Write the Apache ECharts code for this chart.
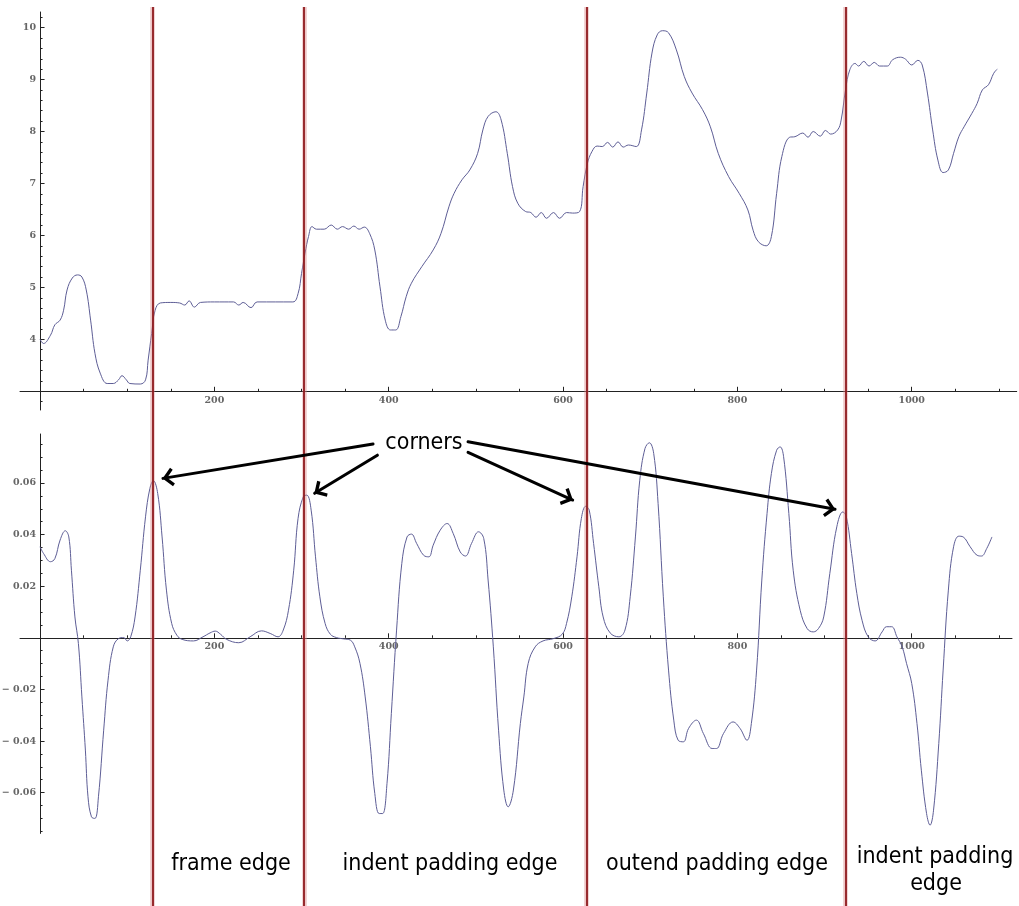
<!DOCTYPE html>
<html><head><meta charset="utf-8">
<script src="https://cdn.jsdelivr.net/npm/echarts@6/dist/echarts.min.js"></script>
<style>html,body{margin:0;padding:0;background:#fff}#c{width:1019px;height:906px}</style>
</head><body><div id="c"></div>
<script>
// ---- data ----
const topCurve = [[0,4.0],[4,3.92],[12,4.08],[17,4.28],[23,4.37],[27,4.56],[31,4.95],[37,5.18],[43,5.24],[48,5.2],[53,4.95],[58,4.37],[63,3.73],[69,3.35],[77,3.15],[84,3.15],[90,3.22],[94,3.3],[99,3.22],[103,3.15],[115,3.14],[121,3.22],[124,3.6],[128,4.11],[132,4.56],[138,4.7],[150,4.71],[160,4.70],[166,4.66],[171,4.74],[177,4.62],[184,4.71],[200,4.72],[222,4.72],[228,4.66],[233,4.71],[242,4.61],[249,4.72],[290,4.72],[296,4.88],[300,5.27],[304,5.66],[308,5.98],[312,6.17],[317,6.12],[326,6.12],[334,6.20],[341,6.12],[347,6.17],[354,6.12],[360,6.18],[366,6.12],[372,6.16],[378,6.04],[384,5.72],[390,5.01],[396,4.37],[402,4.18],[408,4.18],[414,4.44],[420,4.82],[426,5.08],[438,5.40],[451,5.72],[460,6.04],[469,6.55],[475,6.81],[484,7.07],[493,7.26],[502,7.58],[508,8.03],[514,8.29],[523,8.38],[529,8.22],[536,7.58],[542,6.94],[548,6.62],[557,6.46],[563,6.44],[569,6.35],[575,6.44],[581,6.33],[589,6.44],[596,6.33],[604,6.44],[611,6.43],[619,6.46],[623,6.94],[628,7.39],[633,7.61],[639,7.72],[645,7.71],[651,7.79],[657,7.70],[663,7.80],[669,7.70],[675,7.74],[684,7.71],[690,8.03],[696,8.74],[702,9.51],[708,9.86],[714,9.94],[721,9.90],[730,9.57],[739,9.06],[748,8.74],[760,8.42],[769,8.09],[778,7.58],[790,7.13],[802,6.81],[812,6.49],[818,6.10],[824,5.88],[833,5.80],[839,5.98],[845,6.81],[851,7.52],[860,7.89],[866,7.90],[875,7.97],[881,7.89],[887,8.00],[895,7.91],[901,8.02],[907,7.95],[915,8.03],[919,8.22],[924,8.80],[929,9.19],[935,9.31],[939,9.26],[945,9.35],[951,9.26],[957,9.33],[963,9.26],[972,9.26],[978,9.38],[987,9.43],[993,9.39],[1000,9.28],[1007,9.37],[1012,9.28],[1018,8.74],[1024,8.03],[1030,7.45],[1036,7.21],[1042,7.26],[1048,7.58],[1054,7.90],[1060,8.09],[1069,8.35],[1075,8.54],[1081,8.80],[1088,8.90],[1094,9.12],[1098,9.20]];

const bottomCurve = [[0,0.0353],[4,0.0327],[12,0.0295],[17,0.0307],[23,0.0379],[29,0.0415],[33,0.0391],[36,0.0262],[40,0.0081],[44,-0.0022],[48,-0.0229],[52,-0.0435],[55,-0.0616],[59,-0.0694],[63,-0.0700],[67,-0.0616],[73,-0.0358],[78,-0.0164],[84,-0.0035],[90,-0.0003],[96,0.0001],[100,-0.0012],[104,0.0004],[109,0.0081],[115,0.0262],[121,0.0469],[126,0.0579],[130,0.0609],[135,0.0559],[140,0.0391],[145,0.0185],[151,0.0056],[157,0.0010],[163,-0.0006],[176,-0.0012],[187,0.0004],[195,0.0019],[201,0.0026],[207,0.0014],[214,-0.0006],[228,-0.0019],[241,0.0004],[254,0.0027],[264,0.0017],[273,0.0004],[279,0.0030],[285,0.0107],[291,0.0262],[296,0.0463],[302,0.0547],[306,0.0553],[311,0.0495],[316,0.0314],[321,0.0159],[327,0.0056],[333,0.0014],[340,0.0001],[348,-0.0004],[356,-0.0009],[361,-0.0035],[367,-0.0099],[373,-0.0229],[379,-0.0422],[384,-0.0603],[389,-0.0681],[393,-0.0681],[398,-0.0565],[403,-0.0293],[409,0.0030],[415,0.0288],[421,0.0391],[426,0.0402],[432,0.0366],[440,0.0320],[446,0.0314],[451,0.0359],[459,0.0417],[467,0.0443],[474,0.0404],[482,0.0333],[488,0.0317],[495,0.0366],[503,0.0411],[509,0.0385],[514,0.0224],[520,-0.0035],[526,-0.0358],[532,-0.0590],[537,-0.0655],[543,-0.0590],[551,-0.0332],[555,-0.0229],[560,-0.0099],[568,-0.0035],[577,-0.0012],[589,-0.0003],[599,0.0014],[604,0.0056],[610,0.0159],[616,0.0314],[621,0.0463],[626,0.0510],[630,0.0495],[635,0.0366],[641,0.0198],[646,0.0081],[654,0.0019],[664,0.0004],[671,0.0030],[677,0.0159],[683,0.0391],[688,0.0611],[694,0.0734],[699,0.0756],[704,0.0714],[709,0.0521],[715,0.0159],[721,-0.0125],[727,-0.0319],[732,-0.0397],[738,-0.0403],[744,-0.0351],[753,-0.0319],[761,-0.0371],[771,-0.0429],[776,-0.0429],[784,-0.0371],[795,-0.0326],[803,-0.0351],[811,-0.0397],[816,-0.0332],[822,-0.0125],[828,0.0224],[834,0.0482],[839,0.0637],[845,0.0727],[849,0.0740],[853,0.0702],[859,0.0482],[864,0.0262],[872,0.0107],[880,0.0036],[887,0.0023],[893,0.0036],[899,0.0081],[906,0.0249],[914,0.0430],[921,0.0488],[925,0.0469],[931,0.0327],[937,0.0172],[943,0.0068],[950,0.0004],[958,-0.0012],[966,0.0023],[971,0.0043],[977,0.0043],[983,0.0004],[989,-0.0035],[994,-0.0099],[1000,-0.0177],[1006,-0.0332],[1011,-0.0513],[1017,-0.0681],[1021,-0.0726],[1025,-0.0668],[1031,-0.0410],[1036,-0.0125],[1042,0.0185],[1048,0.0353],[1054,0.0394],[1059,0.0391],[1067,0.0353],[1075,0.0320],[1080,0.0317],[1086,0.0346],[1092,0.0391]];

const edgeX = [129, 303, 627, 924];                  // red vertical lines
const xTickLabels = [200, 400, 600, 800, 1000];
const topYTickLabels = [4, 5, 6, 7, 8, 9, 10];
const bottomYTickLabels = [-0.06, -0.04, -0.02, 0.02, 0.04, 0.06];
// arrows from "corners" to the peaks (bottom-plot data coordinates)
const cornerArrows = [
  [[382, 0.0751], [141, 0.0618]],
  [[387, 0.0708], [315, 0.0560]],
  [[491, 0.0719], [611, 0.0534]],
  [[491, 0.0760], [912, 0.0498]]
];
const cornerLabel = 'corners';
const edgeLabels = [
  {text: 'frame edge', x: 231, y: 864},
  {text: 'indent padding edge', x: 450, y: 864},
  {text: 'outend padding edge', x: 717, y: 864},
  {text: 'indent padding', x: 935, y: 857},
  {text: 'edge', x: 936, y: 884}
];

// ---- layout ----
const XMIN = -23, XMAX_TOP = 1120.4, XMAX_BOT = 1115;
const PXU = 0.8717;
const TOP = {top: 12, height: 398, ymin: 2.64, ymax: 10.3, axisAt: 3};
const BOT = {top: 434, height: 399.4, ymin: -0.0758, ymax: 0.079, axisAt: 0};
const xOffset = cfg => -((cfg.axisAt - cfg.ymin) / (cfg.ymax - cfg.ymin)) * cfg.height;
const yOffset = -(0 - XMIN) * PXU;   // y axes sit at x = 0

function range(a, b, s) { const r = []; for (let v = a; v <= b + s / 2; v += s) r.push(Math.round(v * 10000) / 10000); return r; }
const xMinor = range(50, 1100, 50).filter(v => v % 200 !== 0);
const topYMinor = range(2.8, 10.2, 0.2).filter(v => Math.abs(v - Math.round(v)) > 1e-6 || v < 4);
const botYMinor = range(-0.075, 0.075, 0.005).filter(v => bottomYTickLabels.every(m => Math.abs(m - v) > 1e-6) && Math.abs(v) > 1e-6);

const labelFont = {fontFamily: '"DejaVu Serif", serif', fontSize: 9.5, fontWeight: 'bold', color: '#666'};
const axisCol = '#222';

function xAxesFor(gridIndex, max, offset) {
  return [
    {type: 'value', gridIndex, min: XMIN, max, position: 'bottom', offset,
     axisLine: {show: true, onZero: false, lineStyle: {color: axisCol, width: 1}},
     axisTick: {show: true, inside: true, length: 4.5, customValues: xTickLabels, lineStyle: {color: axisCol}},
     axisLabel: Object.assign({show: true, margin: 4, customValues: xTickLabels, formatter: v => String(v)}, labelFont),
     splitLine: {show: false}},
    {type: 'value', gridIndex, min: XMIN, max, position: 'bottom', offset,
     axisLine: {show: false, onZero: false},
     axisTick: {show: true, inside: true, length: 2.5, customValues: xMinor, lineStyle: {color: axisCol}},
     axisLabel: {show: false}, splitLine: {show: false}}
  ];
}
function yAxesFor(gridIndex, cfg, major, minor, fmt) {
  return [
    {type: 'value', gridIndex, min: cfg.ymin, max: cfg.ymax, position: 'left', offset: yOffset,
     axisLine: {show: true, onZero: false, lineStyle: {color: axisCol, width: 1}},
     axisTick: {show: true, inside: true, length: 4.5, customValues: major, lineStyle: {color: axisCol}},
     axisLabel: Object.assign({show: true, margin: 4, customValues: major, formatter: fmt}, labelFont),
     splitLine: {show: false}},
    {type: 'value', gridIndex, min: cfg.ymin, max: cfg.ymax, position: 'left', offset: yOffset,
     axisLine: {show: false, onZero: false},
     axisTick: {show: true, inside: true, length: 2.5, customValues: minor, lineStyle: {color: axisCol}},
     axisLabel: {show: false}, splitLine: {show: false}}
  ];
}

// up-pointing open chevron; tip at the centre of a square bounding box
const chevron = 'path://M10,0 L18.5,8.5 L16.3,10.7 L10,4.4 L3.7,10.7 L1.5,8.5 Z M0,-10 L0.01,-10 L0,-9.99 Z M20,-10 L19.99,-10 L20,-9.99 Z';

const curveStyle = {color: '#5e5e96', width: 1};

const option = {
  animation: false,
  backgroundColor: '#fff',
  grid: [
    {left: 20, top: TOP.top, width: (XMAX_TOP - XMIN) * PXU, height: TOP.height, containLabel: false, outerBoundsMode: 'none'},
    {left: 20, top: BOT.top, width: (XMAX_BOT - XMIN) * PXU, height: BOT.height, containLabel: false, outerBoundsMode: 'none'},
    {left: 20, top: 7, width: (XMAX_TOP - XMIN) * PXU, bottom: 0, containLabel: false, outerBoundsMode: 'none'}
  ],
  xAxis: [
    ...xAxesFor(0, XMAX_TOP, xOffset(TOP)),
    ...xAxesFor(1, XMAX_BOT, xOffset(BOT)),
    {type: 'value', gridIndex: 2, min: XMIN, max: XMAX_TOP, show: false}
  ],
  yAxis: [
    ...yAxesFor(0, TOP, topYTickLabels, topYMinor, v => String(v)),
    ...yAxesFor(1, BOT, bottomYTickLabels, botYMinor, v => v < 0 ? '\u2212 ' + (-v).toFixed(2) : v.toFixed(2)),
    {type: 'value', gridIndex: 2, min: 0, max: 1, show: false}
  ],
  series: [
    {type: 'line', xAxisIndex: 0, yAxisIndex: 0, data: topCurve, symbol: 'none', smooth: 0.4,
     lineStyle: curveStyle, z: 2},
    {type: 'line', xAxisIndex: 2, yAxisIndex: 2, data: bottomCurve, symbol: 'none', smooth: 0.4,
     lineStyle: curveStyle, z: 2},
    {type: 'line', xAxisIndex: 4, yAxisIndex: 4, data: [], z: 5,
     markLine: {silent: true, symbol: ['none', 'none'], label: {show: false}, animation: false,
       lineStyle: {color: 'rgba(215,130,130,0.45)', width: 4.5, type: 'solid'},
       data: edgeX.map(v => ({xAxis: v}))}},
    {type: 'line', xAxisIndex: 4, yAxisIndex: 4, data: [], z: 6,
     markLine: {silent: true, symbol: ['none', 'none'], label: {show: false}, animation: false,
       lineStyle: {color: '#8e1a1e', width: 1.8, type: 'solid'},
       data: edgeX.map(v => ({xAxis: v}))}},
    {type: 'line', xAxisIndex: 2, yAxisIndex: 2, data: [], z: 10, clip: false,
     markLine: {silent: true, symbol: ['none', chevron], symbolSize: 22, label: {show: false}, animation: false,
       lineStyle: {color: '#000', width: 3, type: 'solid', cap: 'round'},
       data: cornerArrows.map(a => [{coord: a[0]}, {coord: a[1]}])}}
  ],
  graphic: [
    {type: 'text', x: 424, y: 443, z: 20,
     style: {text: cornerLabel, fontSize: 23, fontFamily: '"DejaVu Sans Condensed", "DejaVu Sans", sans-serif', fill: '#000', textAlign: 'center', textVerticalAlign: 'middle'}},
    ...edgeLabels.map(l => ({type: 'text', x: l.x, y: l.y, z: 20,
     style: {text: l.text, fontSize: 23, fontFamily: '"DejaVu Sans Condensed", "DejaVu Sans", sans-serif', fill: '#000', textAlign: 'center', textVerticalAlign: 'middle'}}))
  ]
};
const chart = echarts.init(document.getElementById('c'), null, {renderer: 'canvas'});
chart.setOption(option);
</script></body></html>
